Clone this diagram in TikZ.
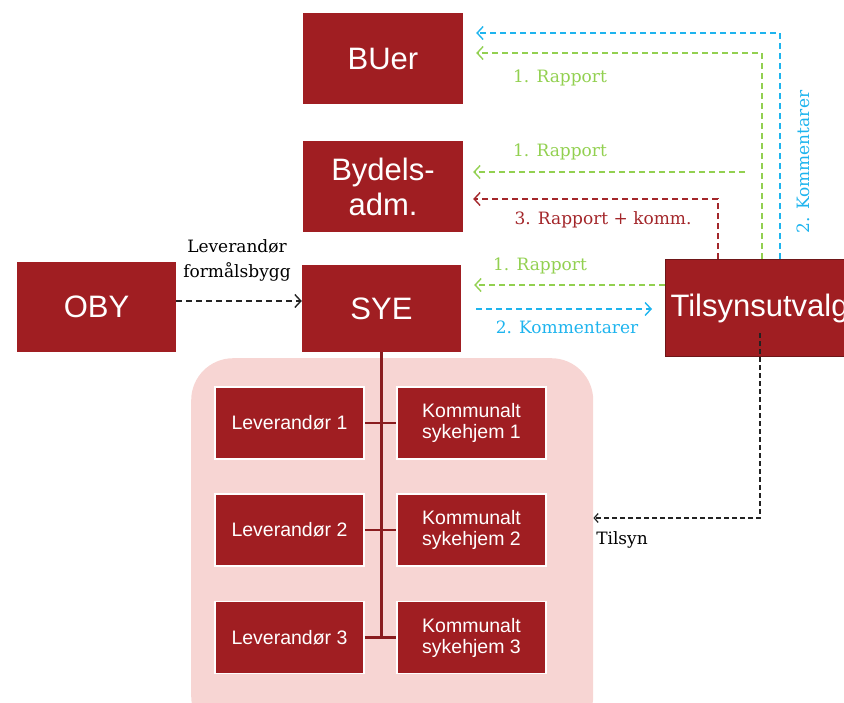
\documentclass[tikz,border=0pt]{standalone}
\usepackage{fontspec}
\setmainfont{DejaVu Serif}
\newfontfamily\boxfont{Liberation Sans}
\usetikzlibrary{arrows.meta,calc}
\definecolor{boxred}{HTML}{A01E22}
\definecolor{boxedge}{HTML}{6E1618}
\definecolor{pinkbg}{HTML}{F7D5D3}
\definecolor{trunkred}{HTML}{8A1C1F}
\definecolor{lgreen}{HTML}{92D050}
\definecolor{lblue}{HTML}{1EB4EE}
\definecolor{lred}{HTML}{A3262A}
\definecolor{dgray}{HTML}{222222}
\begin{document}
\begin{tikzpicture}[x=1pt,y=-1pt,
  bigbox/.style={fill=boxred,text=white,font=\boxfont\fontsize{31}{35}\selectfont,minimum width=160pt,minimum height=91pt,inner sep=0pt,align=center},
  smallbox/.style={fill=boxred,draw=white,line width=1.5pt,text=white,font=\boxfont\fontsize{19.5}{21}\selectfont,minimum width=149pt,minimum height=72pt,inner sep=0pt,align=center},
  dashline/.style={line width=1.4pt,dash pattern=on 6pt off 4pt},
  arr/.style={dashline,-{Straight Barb[length=6pt,width=13pt,line width=1.4pt]}},
  lbl/.style={font=\fontsize{17}{25}\selectfont,inner sep=0pt,align=center},
  trunk/.style={draw=trunkred,line width=2.5pt}]
\useasboundingbox (0,0) rectangle (844,702);
\clip (0,0) rectangle (844,702);

% pink background
\node[fill=pinkbg,rounded corners=42pt,minimum width=402pt,minimum height=380pt,anchor=north west,inner sep=0pt] (pnk) at (191,358) {};

% big boxes
\node[bigbox] (buer) at (383,58.5) {BUer};
\node[bigbox] (bydel) at (383,186.5) {Bydels-\\adm.};
\node[bigbox,minimum width=159pt,minimum height=87pt] (sye) at (381.5,308.5) {SYE};
\node[bigbox,minimum width=159pt,minimum height=90pt] (oby) at (96.5,307) {OBY};
\node[bigbox,draw=boxedge,line width=1pt,minimum width=220pt,minimum height=97pt,anchor=north west,text width=210pt,align=left,inner xsep=5pt] (tilsyn) at (665,259) {Tilsynsutvalg};

% small boxes
\node[smallbox] (lev1) at (289.5,423) {Leverandør 1};
\node[smallbox] (kom1) at (471.5,423) {Kommunalt\\sykehjem 1};
\node[smallbox] (lev2) at (289.5,530) {Leverandør 2};
\node[smallbox] (kom2) at (471.5,530) {Kommunalt\\sykehjem 2};
\node[smallbox] (lev3) at (289.5,637.5) {Leverandør 3};
\node[smallbox] (kom3) at (471.5,637.5) {Kommunalt\\sykehjem 3};

% trunk lines
\draw[trunk] (sye.south) -- (sye.south |- lev3.east);
\draw[trunk] (lev1.east) -- (kom1.west);
\draw[trunk] (lev2.east) -- (kom2.west);
\draw[trunk] (lev3.east) -- (kom3.west);

% coordinates for bends
\coordinate (cB) at (780,33);
\coordinate (cG) at (762,53);
\coordinate (gS) at (745,172);
\coordinate (cR) at (718,199);
\coordinate (sG) at (0,285);
\coordinate (sB) at (0,309);
\coordinate (oB) at (0,301);
\coordinate (tT) at (760,333);
\coordinate (tE) at (0,518);

% arrows
\draw[arr,lblue,shorten >=13pt] (tilsyn.north -| cB) |- (buer.east |- cB);
\draw[arr,lgreen,shorten >=13pt] (tilsyn.north -| cG) |- (buer.east |- cG);
\draw[arr,lgreen,shorten >=10pt] (gS) -- (bydel.east |- gS);
\draw[arr,lred,shorten >=10pt] (tilsyn.north -| cR) |- (bydel.east |- cR);
\draw[arr,lgreen,shorten >=13pt] (tilsyn.west |- sG) -- (sye.east |- sG);
\draw[arr,lblue,shorten <=15pt,shorten >=13pt] (sye.east |- sB) -- (tilsyn.west |- sB);
\draw[arr,dgray,line width=1.3pt] (oby.east |- oB) -- (sye.west |- oB);
\draw[dgray,line width=1.2pt,dash pattern=on 5pt off 3pt,-{Straight Barb[length=4pt,width=9pt,line width=1.2pt]}] (tT) |- (pnk.east |- tE);

% labels
\node[lbl,text=lgreen] (l1) at (560,78) {1. Rapport};
\node[lbl,text=lgreen] (l2) at (560,152) {1. Rapport};
\node[lbl,text=lred] (l3) at (603,220) {3. Rapport + komm.};
\node[lbl,text=lgreen] (l4) at (540,266) {1. Rapport};
\node[lbl,text=lblue] (l5) at (567,327) {2. Kommentarer};
\node[lbl,text=lblue,rotate=90] (l6) at (803,162) {2. Kommentarer};
\node[lbl,text=black] (l7) at (237,260) {Leverandør\\formålsbygg};
\node[lbl,text=black] (l8) at (622,540) {Tilsyn};
\end{tikzpicture}
\end{document}
